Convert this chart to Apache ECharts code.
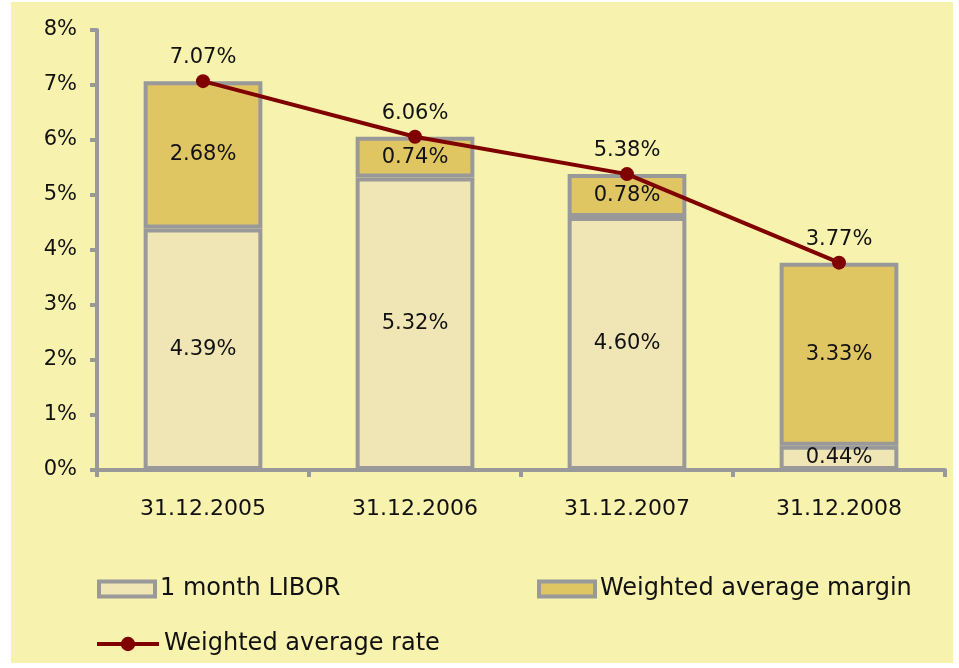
<!DOCTYPE html>
<html>
<head>
<meta charset="utf-8">
<title>LIBOR</title>
<script src="https://cdn.jsdelivr.net/npm/echarts@6/dist/echarts.min.js"></script>
<style>
	html, body { margin: 0; padding: 0; background: #fff; }
	#chart { width: 959px; height: 668px; }
</style>
</head>
<body>
<div id="chart"></div>
<script>
var categories = ['31.12.2005', '31.12.2006', '31.12.2007', '31.12.2008'];
var liborValues = [4.39, 5.32, 4.60, 0.44];
var marginValues = [2.68, 0.74, 0.78, 3.33];
var rateValues = [7.07, 6.06, 5.38, 3.77];
var yTicks = [0, 8, 1]; // min, max, interval

var main = {
	init: function() {
		main.chart()
	},
	chart: function() {
		var myChart = echarts.init(document.getElementById('chart'));
		var grey = '#999999';
		var font = 'DejaVu Sans';
		var pct = function(p) { return p.value.toFixed(2) + '%'; };

		var option = {
			backgroundColor: '#ffffff',
			animation: false,
			textStyle: {
				fontFamily: font
			},
			graphic: [{
				type: 'rect',
				z: -10,
				silent: true,
				shape: { x: 11, y: 2, width: 942, height: 661 },
				style: { fill: '#F7F2AD' }
			}],
			legend: [{
				left: 92,
				top: 572,
				icon: 'rect',
				itemWidth: 56,
				itemHeight: 15,
				itemGap: 6,
				itemStyle: { borderWidth: 4, borderColor: grey },
				data: ['1 month LIBOR'],
				textStyle: { fontFamily: font, fontSize: 24, color: '#111' }
			}, {
				left: 532,
				top: 572,
				icon: 'rect',
				itemWidth: 56,
				itemHeight: 15,
				itemStyle: { borderWidth: 4, borderColor: grey },
				data: ['Weighted average margin'],
				textStyle: { fontFamily: font, fontSize: 24, color: '#111' }
			}, {
				left: 90,
				top: 627,
				itemWidth: 62,
				itemHeight: 18,
				data: ['Weighted average rate'],
				lineStyle: { width: 4 },
				textStyle: { fontFamily: font, fontSize: 24, color: '#111' }
			}],
			grid: {
				left: 97,
				right: 14,
				top: 30,
				bottom: 198
			},
			xAxis: {
				type: 'category',
				data: categories,
				axisLine: { lineStyle: { color: grey, width: 4 } },
				axisTick: { show: true, length: 7, lineStyle: { color: grey, width: 4 } },
				axisLabel: { color: '#111', fontSize: 22, margin: 28, fontFamily: font }
			},
			yAxis: {
				type: 'value',
				min: yTicks[0],
				max: yTicks[1],
				interval: yTicks[2],
				splitLine: { show: false },
				axisLine: { show: true, lineStyle: { color: grey, width: 4 } },
				axisTick: { show: true, length: 7, lineStyle: { color: grey, width: 4 } },
				axisLabel: { color: '#111', fontSize: 21, margin: 20, fontFamily: font, formatter: '{value}%' }
			},
			series: [{
				name: '1 month LIBOR',
				type: 'bar',
				stack: 'rate',
				barWidth: '56%',
				data: liborValues,
				itemStyle: { color: '#F0E5B4', borderColor: grey, borderWidth: 4 },
				label: { show: true, position: 'inside', color: '#111', fontSize: 21, fontFamily: font, formatter: pct }
			}, {
				name: 'Weighted average margin',
				type: 'bar',
				stack: 'rate',
				data: marginValues,
				itemStyle: { color: '#DFC663', borderColor: grey, borderWidth: 4 },
				label: { show: true, position: 'inside', color: '#111', fontSize: 21, fontFamily: font, formatter: pct }
			}, {
				name: 'Weighted average rate',
				type: 'line',
				data: rateValues,
				symbol: 'circle',
				symbolSize: 14,
				z: 5,
				lineStyle: { color: '#800000', width: 4 },
				itemStyle: { color: '#800000' },
				label: { show: true, position: 'top', distance: 6, color: '#111', fontSize: 21, fontFamily: font, formatter: pct }
			}]
		};

		myChart.setOption(option);
	}
}

window.onload = main.init
</script>
</body>
</html>
